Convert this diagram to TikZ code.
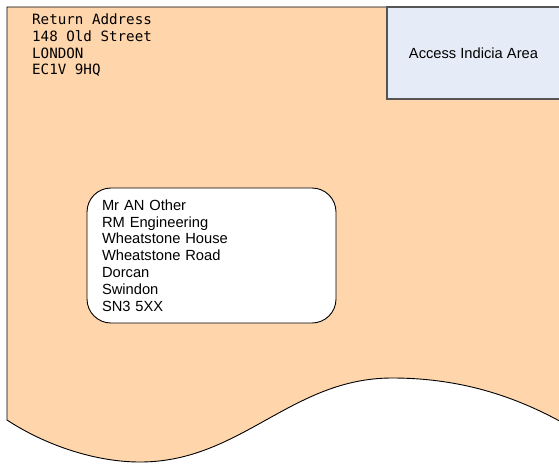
\documentclass[tikz,border=0pt]{standalone}
\usepackage{fontspec}
\setmainfont{Liberation Sans}
\newfontfamily\addrmono{DejaVu Sans Mono}
\usetikzlibrary{positioning}
\definecolor{envelopeFill}{HTML}{FFD6AC}
\definecolor{indiciaFill}{HTML}{E6ECF7}
\definecolor{indiciaBorder}{HTML}{555555}

\begin{document}
\begin{tikzpicture}[
    x=1pt, y=-1pt,
    envelope/.style={fill=envelopeFill, draw=black, line width=0.9pt},
    indicia/.style={
        rectangle, draw=indiciaBorder, fill=indiciaFill,
        minimum width=173pt, minimum height=92pt,
        line width=1.2pt, font=\fontsize{14.7}{17}\selectfont
    },
    addressbox/.style={
        rectangle, draw, fill=white, rounded corners=24pt,
        minimum width=249pt, minimum height=135pt,
        text width=219pt, inner xsep=15pt, align=left,
        line width=0.9pt, font=\fontsize{14.7}{16.8}\selectfont
    },
    returnaddr/.style={
        inner sep=0pt, align=left,
        font=\addrmono\fontsize{14.2}{16.6}\selectfont
    }
]
  \useasboundingbox (0,0) rectangle (559,463);
  \clip (0,0) rectangle (559,463);

  % Envelope body with wavy bottom edge
  \draw[envelope] (7,7) -- (565,7) -- (565,424)
      .. controls (515,396) and (460,378) .. (392,378)
      .. controls (291,378) and (241,462) .. (140,462)
      .. controls (95,462) and (45,445) .. (7,420) -- cycle;

  % Indicia area in top right corner
  \node[indicia] (indicia) at (473.5,53) {Access Indicia Area};

  % Return address
  \node[returnaddr, anchor=north west] (sender) at (32,14)
      {Return Address\\148 Old Street\\LONDON\\EC1V 9HQ};

  % Recipient address
  \node[addressbox] (recipient) at (211.5,255.5)
      {Mr AN Other\\RM Engineering\\Wheatstone House\\Wheatstone Road\\Dorcan\\Swindon\\SN3 5XX};

\end{tikzpicture}
\end{document}
